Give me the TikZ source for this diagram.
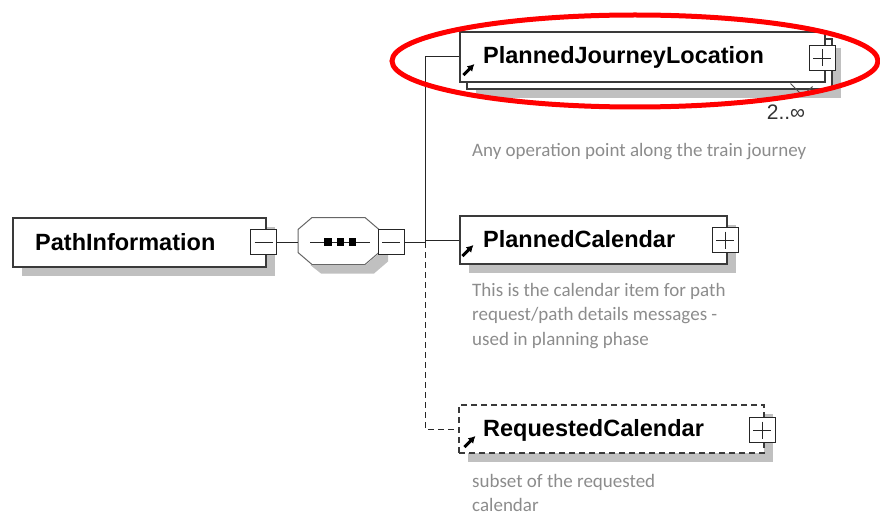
\documentclass[tikz,border=0pt]{standalone}
\usepackage{fontspec}
\setmainfont{Liberation Sans}
\newfontfamily\descfont{Carlito}
\usetikzlibrary{shapes.geometric,shadows,arrows.meta}
\definecolor{shadowgray}{HTML}{C0C0C0}
\definecolor{descgray}{HTML}{8C8C8C}
\definecolor{boxline}{HTML}{3A3A3A}
\tikzstyle{conn} = [draw=black!85, line width=1pt]
\tikzstyle{grayshadow} = [drop shadow={shadow xshift=9pt, shadow yshift=-9pt, fill=shadowgray, opacity=1}]
\tikzstyle{elem} = [draw=boxline, fill=white, line width=1.1pt, rectangle, inner sep=0pt, minimum height=49pt, grayshadow]
\tikzstyle{pmbox} = [draw=black!85, fill=white, line width=1pt, rectangle, inner sep=0pt, minimum width=26pt, minimum height=25pt]
\tikzstyle{minusbox} = [pmbox, path picture={
  \draw[line width=0.8pt] ([xshift=4pt]path picture bounding box.west) -- ([xshift=-4pt]path picture bounding box.east);}]
\tikzstyle{plusbox} = [pmbox, path picture={
  \draw[line width=0.8pt] ([xshift=4pt]path picture bounding box.west) -- ([xshift=-4pt]path picture bounding box.east);
  \draw[line width=0.8pt] ([yshift=-4pt]path picture bounding box.north) -- ([yshift=4pt]path picture bounding box.south);}]
\tikzstyle{elemname} = [anchor=west, inner sep=0pt, font=\bfseries\fontsize{23.5}{26}\selectfont]
\tikzstyle{desc} = [anchor=north west, align=left, inner sep=0pt, text=descgray, font=\descfont\fontsize{19}{24.5}\selectfont]
\tikzstyle{refarrow} = [-{Latex[length=7pt,width=8pt]}, line width=3pt]

\begin{document}
\begin{tikzpicture}[x=1pt, y=-1pt]
\useasboundingbox (0,0) rectangle (880,516);

% root element
\node[elem, minimum width=253pt] at (139.5,242.5) (pi) {};
\node[elemname] at (35,242) (pitext) {PathInformation};
\node[minusbox] at (263.5,242) (pimin) {};

% sequence compositor
\node[rectangle, inner sep=0pt, minimum width=81pt, minimum height=47pt] at (338.5,241) (seq) {};
\draw[draw=black!60, fill=white, line width=1pt] (312,217.5) -- (365,217.5) -- (379,229.5) -- (379,252.5) -- (365,264.5) -- (312,264.5) -- (298,252.5) -- (298,229.5) -- cycle;
% its shadow, the part that shows
\fill[shadowgray] (310.5,265.2) -- (365.3,265.2) -- (379.7,252.8) -- (379.7,231.4) -- (388,238.5) -- (388,261.5) -- (374,273.5) -- (321,273.5) -- cycle;
\draw[conn] ([xshift=-28.5pt,yshift=-1pt]seq.center) -- ([xshift=31.5pt,yshift=-1pt]seq.center);
\foreach \dx in {-10.5,2,14}
  \fill ([xshift=\dx pt,yshift=-1pt]seq.center) +(-3.75,-3.75) rectangle +(3.75,3.75);
\node[minusbox] at (391,242) (seqmin) {};
\path [conn] (pimin.east) -- (pimin.east -| seq.west);

\coordinate (trunk) at (425,242);

% PlannedJourneyLocation (2..inf)
\node[elem, minimum width=365pt, minimum height=50pt] at (649.5,64) (pjlback) {};
\node[draw=boxline, fill=white, line width=1.1pt, rectangle, inner sep=0pt, minimum width=365pt, minimum height=50pt] at (642.5,57) (pjl) {};
\node[elemname] at (483,57) (pjltext) {PlannedJourneyLocation};
\node[plusbox] at (822,58) (pjlplus) {};
\draw[draw=black!70, line width=1pt] ([xshift=-42pt,yshift=6pt]pjlback.south east) -- ([xshift=-30pt,yshift=-6pt]pjlback.south east) -- ([xshift=-20pt,yshift=3pt]pjlback.south east);
\node[font=\fontsize{21}{24}\selectfont, text=black!80] at (786,112) (pjlocc) {2..∞};
\draw[refarrow] ([xshift=4pt,yshift=-18pt]pjl.west) -- ([xshift=15pt,yshift=-7pt]pjl.west);
\node[desc] at (472,143) (pjldesc) {Any operation point along the train journey};
\path [conn] (pjl.west) -| (trunk) -- (seqmin.east);

% PlannedCalendar
\node[elem, minimum width=267pt, minimum height=48pt] at (593.5,240) (pc) {};
\node[elemname] at (483,239) (pctext) {PlannedCalendar};
\node[plusbox] at (725,240) (pcplus) {};
\draw[refarrow] ([xshift=3pt,yshift=-16pt]pc.west) -- ([xshift=14pt,yshift=-5pt]pc.west);
\node[desc] at (472,283) (pcdesc) {This is the calendar item for path\\request/path details messages -\\used in planning phase};
\path [conn] (pc.west) -- (pc.west -| trunk);

% RequestedCalendar (optional)
\node[elem, dashed, dash pattern=on 6pt off 4pt, minimum width=305pt, minimum height=48pt] at (611.5,429) (rc) {};
\node[elemname] at (483,430) (rctext) {RequestedCalendar};
\node[plusbox] at (762,430) (rcplus) {};
\draw[refarrow] ([xshift=6pt,yshift=-18pt]rc.west) -- ([xshift=17pt,yshift=-7pt]rc.west);
\node[desc] at (472,474) (rcdesc) {subset of the requested\\calendar};
\path [conn, dashed, dash pattern=on 6pt off 4pt] (trunk) |- (rc.west);

% highlight
\node[ellipse, draw=red, line width=5pt, minimum width=486pt, minimum height=92pt] at (635,61) (focus) {};
\end{tikzpicture}
\end{document}
